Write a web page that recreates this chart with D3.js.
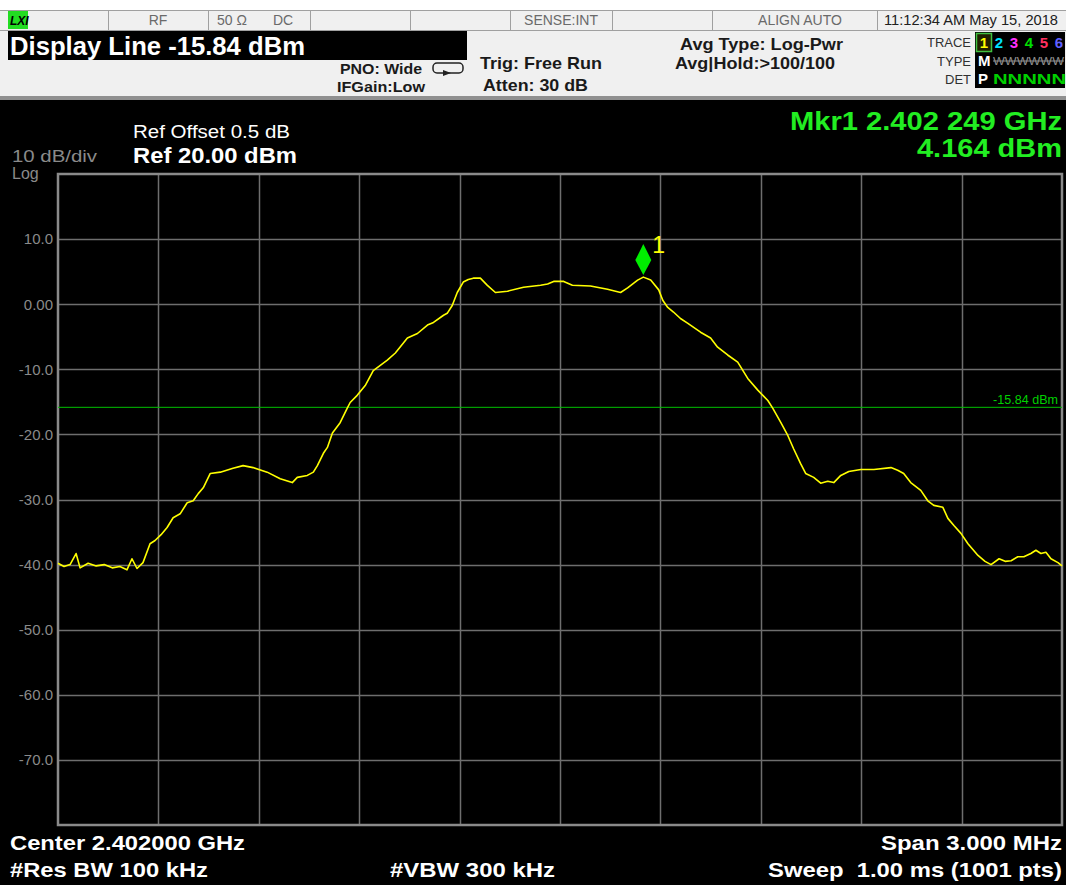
<!DOCTYPE html>
<html><head><meta charset="utf-8">
<script src="https://cdn.jsdelivr.net/npm/d3@7"></script>
<style>
html,body{margin:0;padding:0;background:#fff;}
svg{display:block;font-family:"Liberation Sans",Arial,sans-serif;}
</style></head>
<body>
<svg id="c" width="1066" height="885"></svg>
<script>
// ---- data ----
const centerGHz = 2.402, spanMHz = 3.0;
const refLevel = 20, dbPerDiv = 10, divisions = 10;
const yTickLabels = ["10.0","0.00","-10.0","-20.0","-30.0","-40.0","-50.0","-60.0","-70.0"];
const yTickValues = [10,0,-10,-20,-30,-40,-50,-60,-70];
const displayLine = -15.84;
const marker = {label:"1", offsetMHz:0.249, dBm:4.164};
// trace: frequency offset from center (MHz) and level (dBm)
const traceOffsetMHz = [-1.500,-1.482,-1.464,-1.446,-1.434,-1.410,-1.386,-1.362,-1.338,-1.315,-1.294,-1.279,-1.264,-1.246,-1.225,-1.210,-1.192,-1.174,-1.156,-1.135,-1.114,-1.096,-1.081,-1.066,-1.045,-1.015,-0.977,-0.947,-0.917,-0.875,-0.836,-0.800,-0.785,-0.755,-0.737,-0.725,-0.707,-0.695,-0.680,-0.657,-0.636,-0.627,-0.606,-0.582,-0.558,-0.537,-0.516,-0.492,-0.456,-0.426,-0.396,-0.378,-0.348,-0.337,-0.322,-0.307,-0.289,-0.274,-0.259,-0.238,-0.217,-0.193,-0.157,-0.109,-0.058,-0.037,-0.019,0.011,0.037,0.091,0.142,0.181,0.202,0.232,0.249,0.271,0.295,0.307,0.322,0.339,0.360,0.381,0.420,0.450,0.471,0.501,0.531,0.561,0.591,0.621,0.636,0.660,0.681,0.698,0.719,0.734,0.758,0.779,0.800,0.818,0.839,0.863,0.899,0.938,0.989,1.009,1.027,1.048,1.078,1.099,1.117,1.144,1.159,1.177,1.198,1.219,1.249,1.270,1.288,1.312,1.330,1.348,1.368,1.386,1.407,1.422,1.437,1.452,1.467,1.488,1.500];
const traceDBm = [-39.8,-40.3,-40.0,-38.3,-40.5,-39.8,-40.2,-40.0,-40.5,-40.3,-40.8,-39.1,-40.6,-39.7,-36.8,-36.3,-35.4,-34.3,-32.8,-32.2,-30.5,-30.2,-29.1,-28.2,-26.0,-25.8,-25.2,-24.8,-25.1,-25.8,-26.8,-27.4,-26.6,-26.3,-25.8,-24.8,-22.9,-22.0,-19.8,-18.2,-16.0,-15.1,-14.0,-12.5,-10.2,-9.4,-8.6,-7.5,-5.2,-4.5,-3.2,-2.8,-1.7,-1.4,-0.2,1.8,3.4,3.8,4.0,4.0,2.9,1.8,2.0,2.6,2.9,3.1,3.5,3.5,2.9,2.8,2.3,1.8,2.5,3.7,4.16,3.7,2.2,0.6,-0.5,-1.2,-2.2,-2.9,-4.3,-5.2,-6.6,-7.8,-8.9,-11.4,-13.2,-14.8,-16.0,-18.2,-20.2,-22.2,-24.5,-26.0,-26.6,-27.5,-27.2,-27.4,-26.3,-25.7,-25.4,-25.4,-25.1,-25.5,-26.0,-27.4,-28.6,-30.2,-30.9,-31.2,-32.9,-34.0,-35.2,-36.8,-38.6,-39.5,-40.0,-39.1,-39.5,-39.4,-38.8,-38.8,-38.3,-37.8,-38.3,-38.1,-39.1,-39.7,-40.2];
const statusCells = [
  {x0:108,x1:208,items:[{t:"RF",x:158}]},
  {x0:208,x1:310,items:[{t:"50 Ω",x:232},{t:"DC",x:283}]},
  {x0:310,x1:410,items:[]},
  {x0:410,x1:510,items:[]},
  {x0:510,x1:612,items:[{t:"SENSE:INT",x:561}]},
  {x0:612,x1:712,items:[]},
  {x0:712,x1:877,items:[{t:"ALIGN AUTO",x:800}]},
  {x0:877,x1:1066,items:[{t:"11:12:34 AM May 15, 2018",x:971,dark:true,len:174}]}
];
const traceNums = ["1","2","3","4","5","6"];
const traceColors = ["#ffff00","#00e0ff","#ff30ff","#00e000","#ff3060","#6060ff"];

// ---- drawing ----
const svg = d3.select("#c");
const L=58,R=1062,T=174,B=825;
const x = d3.scaleLinear().domain([-spanMHz/2, spanMHz/2]).range([L,R]);
const y = d3.scaleLinear().domain([refLevel - dbPerDiv*divisions, refLevel]).range([B,T]);

const txt = (t,xx,yy,o)=>{
  const e = svg.append("text").attr("x",xx).attr("y",yy).attr("font-size",o.size||14)
    .attr("fill",o.fill||"#1a1a1a").style("white-space","pre").text(t);
  if(o.bold) e.attr("font-weight","bold");
  if(o.anchor) e.attr("text-anchor",o.anchor);
  if(o.len) e.attr("textLength",o.len).attr("lengthAdjust","spacingAndGlyphs");
  return e;
};

// top status bar
svg.append("rect").attr("x",0).attr("y",0).attr("width",1066).attr("height",100).attr("fill","#ffffff");
svg.append("rect").attr("x",0).attr("y",10).attr("width",1066).attr("height",88).attr("fill","#f0f0f0");
svg.append("line").attr("x1",0).attr("x2",1066).attr("y1",10.5).attr("y2",10.5).attr("stroke","#a0a0a0");
svg.append("line").attr("x1",0).attr("x2",1066).attr("y1",30.5).attr("y2",30.5).attr("stroke","#a0a0a0");
statusCells.forEach(c=>{
  svg.append("line").attr("x1",c.x0+0.5).attr("x2",c.x0+0.5).attr("y1",10).attr("y2",30).attr("stroke","#a0a0a0");
  c.items.forEach(it=>{
    txt(it.t,it.x,25,{anchor:"middle",size:14,fill:it.dark?"#202020":"#6a6a6a",len:it.len});
  });
});
// LXI logo
svg.append("rect").attr("x",8).attr("y",11).attr("width",20).attr("height",18).attr("fill","#22dd22");
svg.append("text").attr("x",10).attr("y",25).attr("font-size",12).attr("font-weight","bold").attr("font-style","italic").attr("fill","#000").text("LXI");

// display line box
svg.append("rect").attr("x",8).attr("y",31).attr("width",459).attr("height",29).attr("fill","#000");
txt("Display Line -15.84 dBm",10,55,{size:25,bold:true,fill:"#fff",len:295});

txt("PNO: Wide",340,74,{size:15,bold:true,len:82});
txt("IFGain:Low",337,92,{size:15,bold:true,len:88});
// free-run loop icon
svg.append("path").attr("d","M437,63 h22 a4,4 0 0 1 4,4 v2 a4,4 0 0 1 -4,4 h-22 a4,4 0 0 1 -4,-4 v-2 a4,4 0 0 1 4,-4 Z")
  .attr("fill","none").attr("stroke","#222").attr("stroke-width",1.5);
svg.append("path").attr("d","M443,70 l8,3 l-8,3 Z").attr("fill","#222");
txt("Trig: Free Run",480,69,{size:17,bold:true,len:122});
txt("Atten: 30 dB",483,91,{size:17,bold:true,len:105});
txt("Avg Type: Log-Pwr",680,50,{size:17,bold:true,len:163});
txt("Avg|Hold:>100/100",675,69,{size:17,bold:true,len:160});

// trace panel
[["TRACE",47],["TYPE",66],["DET",84]].forEach(([t,yy])=>{
  txt(t,971,yy,{anchor:"end",size:13,fill:"#303030"});
});
svg.append("rect").attr("x",975).attr("y",32).attr("width",90).attr("height",56).attr("fill","#000");
svg.append("rect").attr("x",976.5).attr("y",33.5).attr("width",15).attr("height",18).attr("fill","#202000").attr("stroke","#40c040").attr("stroke-width",1.5);
traceNums.forEach((n,i)=>{
  svg.append("text").attr("x",984+i*15).attr("y",48).attr("text-anchor","middle").attr("font-size",15).attr("font-weight","bold").attr("fill",traceColors[i]).text(n);
});
txt("M",978,66,{size:15,bold:true,fill:"#fff"});
txt("WWWWWW",993,65,{size:11,fill:"#909090",len:71});
svg.append("line").attr("x1",993).attr("x2",1064).attr("y1",61).attr("y2",61).attr("stroke","#909090");
txt("P",978,84,{size:15,bold:true,fill:"#fff"});
txt("NNNNN",993,84,{size:15,bold:true,fill:"#00d000",len:73});

// separator and screen
svg.append("rect").attr("x",0).attr("y",96).attr("width",1066).attr("height",4).attr("fill","#909090");
svg.append("rect").attr("x",0).attr("y",100).attr("width",1066).attr("height",785).attr("fill","#000");

// annotations
txt("Ref Offset 0.5 dB",133,138,{size:18,fill:"#fff",len:157});
txt("Ref 20.00 dBm",133,163,{size:22,bold:true,fill:"#fff",len:164});
txt("10 dB/div",12,162,{size:16,fill:"#8a8a8a",len:85});
txt("Log",12,179,{size:16,fill:"#8a8a8a"});
txt("Mkr1 2.402 249 GHz",1062,130,{anchor:"end",size:26,bold:true,fill:"#22ee22",len:272});
txt("4.164 dBm",1062,157,{anchor:"end",size:26,bold:true,fill:"#22ee22",len:145});

// grid
const grid = svg.append("g");
const yGrid = d3.range(refLevel - dbPerDiv*divisions + dbPerDiv, refLevel, dbPerDiv);
grid.selectAll("line.h").data(yGrid).join("line")
  .attr("x1",L).attr("x2",R).attr("y1",d=>Math.round(y(d))+0.5).attr("y2",d=>Math.round(y(d))+0.5)
  .attr("stroke","#6e6e6e").attr("stroke-width",1.5);
const xGrid = d3.range(1,divisions).map(i=>-spanMHz/2 + i*spanMHz/divisions);
grid.selectAll("line.v").data(xGrid).join("line")
  .attr("y1",T).attr("y2",B).attr("x1",d=>Math.round(x(d))+0.5).attr("x2",d=>Math.round(x(d))+0.5)
  .attr("stroke","#6e6e6e").attr("stroke-width",1.5);
svg.append("rect").attr("x",L).attr("y",T).attr("width",R-L).attr("height",B-T)
  .attr("fill","none").attr("stroke","#8a8a8a").attr("stroke-width",2.5);

// y axis labels via d3 axis
const yAxis = d3.axisLeft(y).tickValues(yTickValues).tickSize(0).tickPadding(0)
  .tickFormat((d,i)=>yTickLabels[i]);
const ya = svg.append("g").attr("transform",`translate(53,0)`).call(yAxis);
ya.select(".domain").remove();
ya.selectAll("text").attr("font-size",15).attr("fill","#8a8a8a").attr("font-family","Liberation Sans, Arial, sans-serif");

// display line
svg.append("line").attr("x1",L).attr("x2",R).attr("y1",y(displayLine)).attr("y2",y(displayLine)).attr("stroke","#00c000").attr("stroke-width",1);
txt("-15.84 dBm",1058,y(displayLine)-3,{anchor:"end",size:12,fill:"#00d000",len:65});

// trace
const pts = traceOffsetMHz.map((f,i)=>[f,traceDBm[i]]);
svg.append("path").datum(pts)
  .attr("d",d3.line().x(d=>x(d[0])).y(d=>y(d[1])).curve(d3.curveLinear))
  .attr("fill","none").attr("stroke","#ffff00").attr("stroke-width",1.6).attr("stroke-linejoin","round");

// marker
const mx = x(marker.offsetMHz), my = y(marker.dBm);
svg.append("path").attr("d",`M${mx},${my-2} L${mx+8},${my-17} L${mx},${my-33} L${mx-8},${my-17} Z`).attr("fill","#00ee00");
txt(marker.label,mx+9,my-24,{size:23,fill:"#ffff00"});

// bottom annotations
const bt=(t,xx,yy,anchor,len)=>txt(t,xx,yy,{anchor:anchor,size:21,bold:true,fill:"#fff",len:len});
bt("Center 2.402000 GHz",10,850,"start",235);
bt("Span 3.000 MHz",1062,850,"end",181);
bt("#Res BW 100 kHz",10,877,"start",198);
bt("#VBW 300 kHz",390,877,"start",165);
bt("Sweep  1.00 ms (1001 pts)",1062,877,"end",294);
</script>
</body></html>
